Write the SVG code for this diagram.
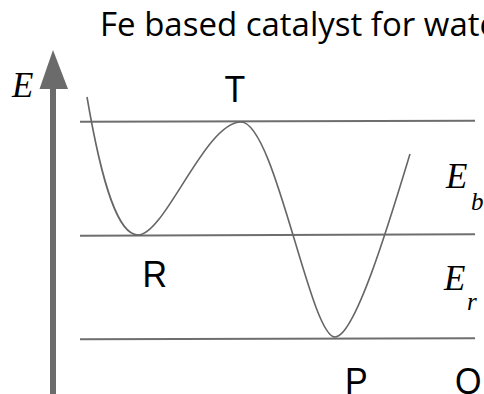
<svg xmlns="http://www.w3.org/2000/svg" width="484" height="394" viewBox="0 0 484 394">
<style>
.lvl{stroke:#6e6e6e;stroke-width:2;fill:none}
.crv{stroke:#666;stroke-width:1.6;fill:none}
.lbl{font-family:"Liberation Sans",Arial,sans-serif;font-size:34px;fill:#000}
.math{font-family:"Liberation Serif","Times New Roman",serif;font-style:italic;fill:#000}
</style>
<rect width="484" height="394" fill="#fff"/>
<text x="100" y="36" font-family="'Open Sans',sans-serif" font-size="33" fill="#000">Fe based catalyst for wate</text>
<g id="axis">
<rect x="50" y="87" width="6" height="307" fill="#6b6b6b"/>
<polygon points="53,50 39.5,89 68,89" fill="#6b6b6b"/>
<text class="math" x="12" y="97" font-size="35">E</text>
</g>
<g id="levels">
<line class="lvl" x1="80" y1="121.7" x2="475" y2="120.7"/>
<line class="lvl" x1="80" y1="235.7" x2="475" y2="234.3"/>
<line class="lvl" x1="80" y1="339.3" x2="475" y2="338.3"/>
</g>
<g id="curve">
<path class="crv" d="M87,97 C102,185 118,235 138,235 C165,235 205,122 241,122 C275,122 310,337 335,337 C355,337 390,220 410,154"/>
</g>
<g id="labels">
<text class="lbl" transform="translate(235,102) scale(1,1.1)" text-anchor="middle">T</text>
<text class="lbl" transform="translate(154.7,286.7) scale(1,1.1)" text-anchor="middle">R</text>
<text class="lbl" transform="translate(356.3,393.5) scale(1,1.1)" text-anchor="middle">P</text>
<text class="lbl" transform="translate(455,394) scale(1,1.1)">O</text>
<text class="math" x="446" y="188.3" font-size="35">E</text>
<text class="math" x="471" y="210" font-size="25">b</text>
<text class="math" x="444" y="290" font-size="35">E</text>
<text class="math" x="467" y="310" font-size="25">r</text>
</g>
</svg>
